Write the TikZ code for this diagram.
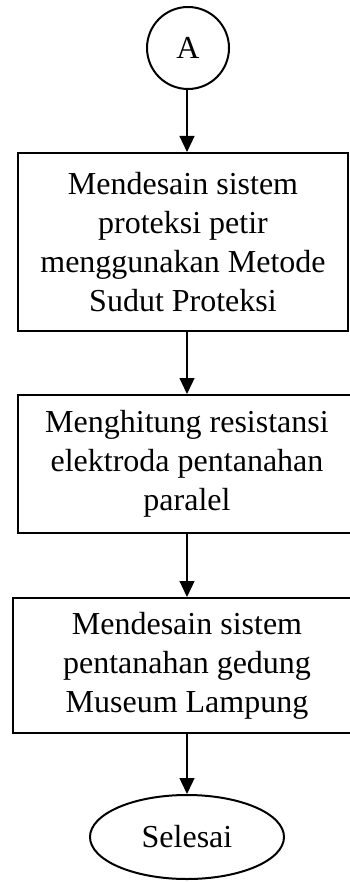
\documentclass[tikz,border=0pt]{standalone}
\usepackage{fontspec}
\setmainfont{Liberation Serif}
\usetikzlibrary{arrows.meta, shapes.geometric}
\tikzset{
  every picture/.style={x=1pt, y=-1pt, line width=2pt},
  flow/.style={font=\fontsize{32}{39}\selectfont, align=center},
  procbox/.style={flow, draw, rectangle, inner sep=0pt},
  connector/.style={flow, draw, circle, minimum size=82pt, inner sep=0pt},
  terminal/.style={flow, draw, ellipse, minimum width=194pt, minimum height=84pt, inner sep=0pt},
  arrow/.style={-{Triangle[length=16pt, width=15pt]}, line width=1.2pt},
}

\begin{document}
\begin{tikzpicture}
  \useasboundingbox (0,0) rectangle (350,882);
  \node[connector] (A) at (188,48) {A};
  \node[procbox, minimum width=330pt, minimum height=178pt] (b1) at (183,242) {Mendesain sistem\\proteksi petir\\menggunakan Metode\\Sudut Proteksi};
  \node[procbox, minimum width=338pt, minimum height=138pt] (b2) at (187,464) {Menghitung resistansi\\elektroda pentanahan\\paralel};
  \node[procbox, minimum width=348pt, minimum height=135pt] (b3) at (187,665.5) {Mendesain sistem\\pentanahan gedung\\Museum Lampung};
  \node[terminal] (end) at (187,837) {Selesai};
  \draw[arrow] (A.south -| end) -- (b1.north -| end);
  \draw[arrow] (b1.south -| end) -- (b2.north -| end);
  \draw[arrow] (b2.south -| end) -- (b3.north -| end);
  \draw[arrow] (b3.south -| end) -- (end.north);
\end{tikzpicture}
\end{document}
